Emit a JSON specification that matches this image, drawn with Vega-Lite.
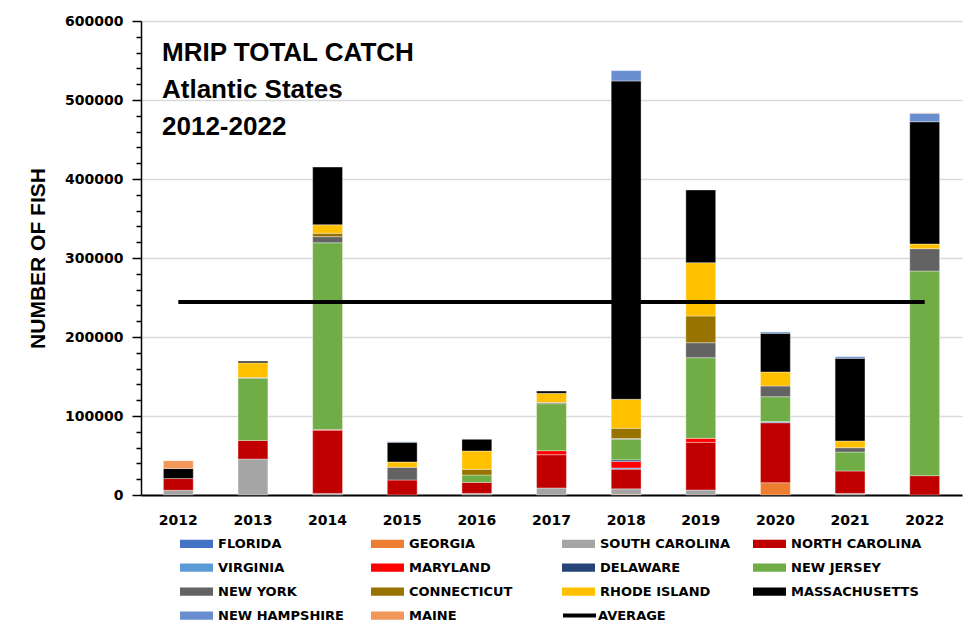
{
  "$schema": "https://vega.github.io/schema/vega-lite/v6.json",
  "width": 821,
  "height": 474,
  "autosize": "none",
  "padding": {"left": 141, "top": 21, "right": 17, "bottom": 149},
  "background": "#ffffff",
  "config": {"view": {"stroke": null}, "font": "DejaVu Sans"},
  "title": {
    "text": ["MRIP TOTAL CATCH", "Atlantic States", "2012-2022"],
    "anchor": "start",
    "frame": "group",
    "orient": "top",
    "font": "Liberation Sans",
    "fontSize": 26,
    "fontWeight": "bold",
    "color": "#000000",
    "lineHeight": 37,
    "baseline": "top",
    "offset": 0,
    "dx": 21,
    "dy": 126
  },
  "datasets": {
    "catch": [
      {"year": "2012", "state": "SOUTH CAROLINA", "fish": 6000},
      {"year": "2012", "state": "NORTH CAROLINA", "fish": 14800},
      {"year": "2012", "state": "MASSACHUSETTS", "fish": 12700},
      {"year": "2012", "state": "MAINE", "fish": 10000},
      {"year": "2013", "state": "SOUTH CAROLINA", "fish": 45500},
      {"year": "2013", "state": "NORTH CAROLINA", "fish": 23600},
      {"year": "2013", "state": "NEW JERSEY", "fish": 78600},
      {"year": "2013", "state": "NEW YORK", "fish": 1000},
      {"year": "2013", "state": "RHODE ISLAND", "fish": 18600},
      {"year": "2013", "state": "MASSACHUSETTS", "fish": 2100},
      {"year": "2014", "state": "SOUTH CAROLINA", "fish": 2000},
      {"year": "2014", "state": "NORTH CAROLINA", "fish": 80000},
      {"year": "2014", "state": "MARYLAND", "fish": 1000},
      {"year": "2014", "state": "NEW JERSEY", "fish": 236300},
      {"year": "2014", "state": "NEW YORK", "fish": 7700},
      {"year": "2014", "state": "CONNECTICUT", "fish": 4300},
      {"year": "2014", "state": "RHODE ISLAND", "fish": 10800},
      {"year": "2014", "state": "MASSACHUSETTS", "fish": 73000},
      {"year": "2015", "state": "NORTH CAROLINA", "fish": 19000},
      {"year": "2015", "state": "NEW YORK", "fish": 16000},
      {"year": "2015", "state": "RHODE ISLAND", "fish": 6800},
      {"year": "2015", "state": "MASSACHUSETTS", "fish": 24900},
      {"year": "2015", "state": "NEW HAMPSHIRE", "fish": 800},
      {"year": "2016", "state": "SOUTH CAROLINA", "fish": 2000},
      {"year": "2016", "state": "NORTH CAROLINA", "fish": 14000},
      {"year": "2016", "state": "NEW JERSEY", "fish": 9300},
      {"year": "2016", "state": "CONNECTICUT", "fish": 7200},
      {"year": "2016", "state": "RHODE ISLAND", "fish": 23200},
      {"year": "2016", "state": "MASSACHUSETTS", "fish": 14800},
      {"year": "2017", "state": "SOUTH CAROLINA", "fish": 8900},
      {"year": "2017", "state": "NORTH CAROLINA", "fish": 42100},
      {"year": "2017", "state": "MARYLAND", "fish": 5100},
      {"year": "2017", "state": "NEW JERSEY", "fish": 59500},
      {"year": "2017", "state": "NEW YORK", "fish": 1500},
      {"year": "2017", "state": "RHODE ISLAND", "fish": 11600},
      {"year": "2017", "state": "MASSACHUSETTS", "fish": 2900},
      {"year": "2018", "state": "GEORGIA", "fish": 800},
      {"year": "2018", "state": "SOUTH CAROLINA", "fish": 7000},
      {"year": "2018", "state": "NORTH CAROLINA", "fish": 24900},
      {"year": "2018", "state": "VIRGINIA", "fish": 1500},
      {"year": "2018", "state": "MARYLAND", "fish": 8200},
      {"year": "2018", "state": "DELAWARE", "fish": 2100},
      {"year": "2018", "state": "NEW JERSEY", "fish": 26000},
      {"year": "2018", "state": "NEW YORK", "fish": 1000},
      {"year": "2018", "state": "CONNECTICUT", "fish": 13000},
      {"year": "2018", "state": "RHODE ISLAND", "fish": 36700},
      {"year": "2018", "state": "MASSACHUSETTS", "fish": 402900},
      {"year": "2018", "state": "NEW HAMPSHIRE", "fish": 13100},
      {"year": "2019", "state": "SOUTH CAROLINA", "fish": 6300},
      {"year": "2019", "state": "NORTH CAROLINA", "fish": 60400},
      {"year": "2019", "state": "MARYLAND", "fish": 5000},
      {"year": "2019", "state": "NEW JERSEY", "fish": 102100},
      {"year": "2019", "state": "NEW YORK", "fish": 19000},
      {"year": "2019", "state": "CONNECTICUT", "fish": 33800},
      {"year": "2019", "state": "RHODE ISLAND", "fish": 67500},
      {"year": "2019", "state": "MASSACHUSETTS", "fish": 92000},
      {"year": "2020", "state": "GEORGIA", "fish": 15600},
      {"year": "2020", "state": "NORTH CAROLINA", "fish": 75900},
      {"year": "2020", "state": "VIRGINIA", "fish": 1500},
      {"year": "2020", "state": "NEW JERSEY", "fish": 31400},
      {"year": "2020", "state": "NEW YORK", "fish": 13600},
      {"year": "2020", "state": "RHODE ISLAND", "fish": 17700},
      {"year": "2020", "state": "MASSACHUSETTS", "fish": 49000},
      {"year": "2020", "state": "NEW HAMPSHIRE", "fish": 1700},
      {"year": "2021", "state": "SOUTH CAROLINA", "fish": 2000},
      {"year": "2021", "state": "NORTH CAROLINA", "fish": 28400},
      {"year": "2021", "state": "NEW JERSEY", "fish": 24000},
      {"year": "2021", "state": "NEW YORK", "fish": 5500},
      {"year": "2021", "state": "RHODE ISLAND", "fish": 8500},
      {"year": "2021", "state": "MASSACHUSETTS", "fish": 104600},
      {"year": "2021", "state": "NEW HAMPSHIRE", "fish": 2100},
      {"year": "2022", "state": "NORTH CAROLINA", "fish": 24500},
      {"year": "2022", "state": "NEW JERSEY", "fish": 259000},
      {"year": "2022", "state": "NEW YORK", "fish": 28300},
      {"year": "2022", "state": "RHODE ISLAND", "fish": 5900},
      {"year": "2022", "state": "MASSACHUSETTS", "fish": 154800},
      {"year": "2022", "state": "NEW HAMPSHIRE", "fish": 10700},
      {"year": "2022", "state": "MAINE", "fish": 500}
    ],
    "avg": [
      {"year": "2012", "series": "AVERAGE", "avg": 244200},
      {"year": "2013", "series": "AVERAGE", "avg": 244200},
      {"year": "2014", "series": "AVERAGE", "avg": 244200},
      {"year": "2015", "series": "AVERAGE", "avg": 244200},
      {"year": "2016", "series": "AVERAGE", "avg": 244200},
      {"year": "2017", "series": "AVERAGE", "avg": 244200},
      {"year": "2018", "series": "AVERAGE", "avg": 244200},
      {"year": "2019", "series": "AVERAGE", "avg": 244200},
      {"year": "2020", "series": "AVERAGE", "avg": 244200},
      {"year": "2021", "series": "AVERAGE", "avg": 244200},
      {"year": "2022", "series": "AVERAGE", "avg": 244200}
    ]
  },
  "layer": [
    {
      "data": {"name": "catch"},
      "transform": [
        {"calculate": "indexof(['FLORIDA','GEORGIA','SOUTH CAROLINA','NORTH CAROLINA','VIRGINIA','MARYLAND','DELAWARE','NEW JERSEY','NEW YORK','CONNECTICUT','RHODE ISLAND','MASSACHUSETTS','NEW HAMPSHIRE','MAINE'], datum.state)", "as": "stackRank"}
      ],
      "mark": {"type": "bar", "stroke": "#ffffff", "strokeWidth": 0.6, "strokeOpacity": 0.6},
      "encoding": {
        "x": {
          "field": "year", "type": "ordinal",
          "scale": {"paddingInner": 0.6, "paddingOuter": 0.3},
          "axis": {
            "title": null, "labelAngle": 0, "ticks": false,
            "domainColor": "#000000", "domainWidth": 2,
            "labelFont": "DejaVu Sans", "labelFontSize": 14, "labelFontWeight": "bold",
            "labelColor": "#000000", "labelPadding": 18
          }
        },
        "y": {
          "field": "fish", "type": "quantitative", "stack": "zero",
          "scale": {"domain": [0, 600000], "nice": false},
          "axis": {
            "title": "NUMBER OF FISH",
            "titleFont": "Liberation Sans", "titleFontSize": 21, "titleFontWeight": "bold",
            "titleColor": "#000000", "titlePadding": 16,
            "values": [0, 20000, 40000, 60000, 80000, 100000, 120000, 140000, 160000, 180000, 200000, 220000, 240000, 260000, 280000, 300000, 320000, 340000, 360000, 380000, 400000, 420000, 440000, 460000, 480000, 500000, 520000, 540000, 560000, 580000, 600000],
            "tickCount": 100,
            "labelOverlap": false,
            "format": "d",
            "labelExpr": "datum.value % 100000 === 0 ? datum.label : ''",
            "labelFont": "DejaVu Sans", "labelFontSize": 14, "labelFontWeight": "bold",
            "labelColor": "#000000", "labelPadding": 9,
            "tickColor": "#000000", "tickWidth": 1.5,
            "tickSize": {"condition": {"test": "datum.value % 100000 === 0", "value": 9}, "value": 5},
            "domainColor": "#000000", "domainWidth": 1.5,
            "grid": true, "gridColor": "#d9d9d9", "gridWidth": 1.5,
            "gridOpacity": {"condition": {"test": "datum.value % 100000 === 0", "value": 1}, "value": 0}
          }
        },
        "order": {"field": "stackRank", "type": "quantitative", "sort": "ascending"},
        "color": {
          "field": "state", "type": "nominal",
          "scale": {
            "domain": ["FLORIDA", "GEORGIA", "SOUTH CAROLINA", "NORTH CAROLINA", "VIRGINIA", "MARYLAND", "DELAWARE", "NEW JERSEY", "NEW YORK", "CONNECTICUT", "RHODE ISLAND", "MASSACHUSETTS", "NEW HAMPSHIRE", "MAINE"],
            "range": ["#4472C4", "#ED7D31", "#A5A5A5", "#C00000", "#5B9BD5", "#FF0000", "#264478", "#70AD47", "#636363", "#997300", "#FFC000", "#000000", "#698ED0", "#F1975A"]
          },
          "legend": {
            "orient": "none", "legendX": 39, "legendY": 506,
            "direction": "horizontal",
            "columns": 4, "title": null, "gridAlign": "all",
            "columnPadding": 22, "rowPadding": 0,
            "symbolType": "M-1,-0.25H1V0.25H-1Z", "symbolSize": 1089, "symbolStrokeWidth": 0,
            "symbolOpacity": 1,
            "labelFont": "DejaVu Sans", "labelFontSize": 13, "labelFontWeight": "bold",
            "labelColor": "#000000", "labelOffset": 5, "labelLimit": 250
          }
        }
      }
    },
    {
      "data": {"name": "avg"},
      "mark": {"type": "line", "strokeWidth": 4},
      "encoding": {
        "x": {"field": "year", "type": "ordinal"},
        "y": {"field": "avg", "type": "quantitative"},
        "stroke": {
          "field": "series", "type": "nominal",
          "scale": {"domain": ["AVERAGE"], "range": ["#000000"]},
          "legend": {
            "orient": "none", "legendX": 420, "legendY": 576,
            "title": null,
            "symbolType": "stroke", "symbolSize": 1089, "symbolStrokeWidth": 4,
            "symbolStrokeColor": "#000000",
            "labelFont": "DejaVu Sans", "labelFontSize": 13, "labelFontWeight": "bold",
            "labelColor": "#000000", "labelOffset": 0
          }
        }
      }
    }
  ]
}
